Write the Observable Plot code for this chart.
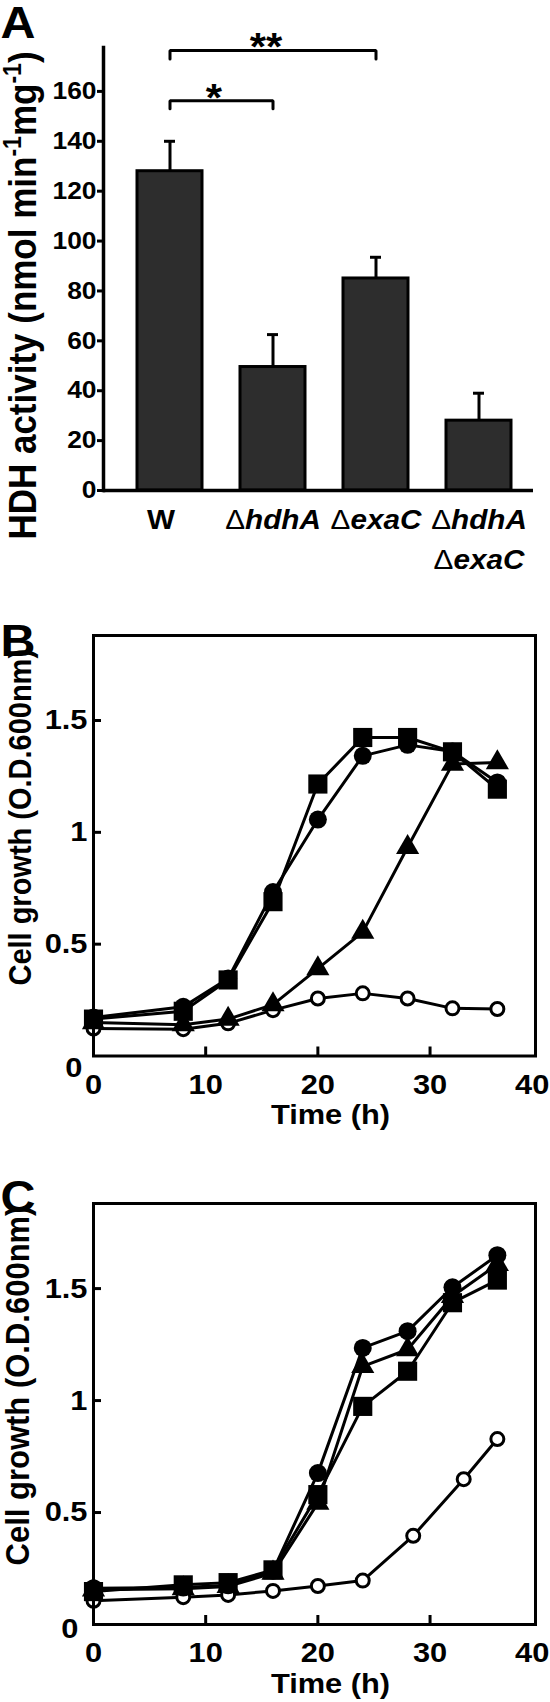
<!DOCTYPE html>
<html>
<head>
<meta charset="utf-8">
<script src="https://cdn.jsdelivr.net/npm/d3@7"></script>
<script src="https://cdn.jsdelivr.net/npm/@observablehq/plot@0.6"></script>
<style>
  body { margin: 0; background: #fff; }
  #chart { width: 550px; }
  #chart svg { display: block; }
</style>
</head>
<body>
<div id="chart"></div>
<script>
// ---------- Panel A: HDH activity ----------
const strains = ["W", "ΔhdhA", "ΔexaC", "ΔhdhA\nΔexaC"];
const activity = [128, 49.5, 85, 28];
const activityErr = [12, 13, 8.5, 11];
const activityTicks = [0, 20, 40, 60, 80, 100, 120, 140, 160];
const activityLabel = "HDH activity (nmol min^-1mg^-1)";
const sigFrom = ["W", "W"];
const sigTo = ["ΔexaC", "ΔhdhA"];
const sigLevel = [176.4, 156.3];
const sigLeg = [173, 153];
const sigLabel = ["**", "*"];

// ---------- Panel B: growth ----------
const timeB = [0, 8, 12, 16, 20, 24, 28, 32, 36];
const bCircle   = [0.172, 0.22, 0.346, 0.733, 1.057, 1.342, 1.391, 1.361, 1.223];
const bSquare   = [0.165, 0.20, 0.34, 0.69, 1.216, 1.424, 1.424, 1.36, 1.193];
const bTriangle = [0.15, 0.14, 0.165, 0.23, 0.391, 0.554, 0.933, 1.305, 1.312];
const bOpen     = [0.123, 0.12, 0.146, 0.205, 0.257, 0.28, 0.257, 0.213, 0.21];

// ---------- Panel C: growth ----------
const timeC = [0, 8, 12, 16, 20, 24, 28, 32, 36];
const timeCOpen = [0, 8, 12, 16, 20, 24, 28.5, 33, 36];
const cCircle   = [0.162, 0.165, 0.175, 0.24, 0.676, 1.235, 1.31, 1.506, 1.649];
const cSquare   = [0.147, 0.177, 0.187, 0.244, 0.58, 0.974, 1.131, 1.437, 1.538];
const cTriangle = [0.155, 0.16, 0.17, 0.23, 0.542, 1.153, 1.228, 1.466, 1.608];
const cOpen     = [0.106, 0.122, 0.132, 0.15, 0.172, 0.196, 0.396, 0.649, 0.828];

const growthTickMarksX = [10, 20, 30];
const growthTickLabelsX = [0, 10, 20, 30];
const growthLastTickX = [40];
const growthTicksY = [0.5, 1, 1.5];
const growthZeroY = [0];
const growthLabel = "Cell growth (O.D.600nm)";
const timeLabel = "Time (h)";

// ---------- helpers ----------
const FONT = "'Liberation Sans', Arial, Helvetica, sans-serif";
const SVGNS = "http://www.w3.org/2000/svg";
const STRETCH = 1.1;
const plain = d => `${d}`;

function style() {
  return {fontFamily: FONT, fontWeight: "bold", fontSize: "24px", background: "white", color: "black", overflow: "visible"};
}

// superscripts (^-1) and an upright, regular-weight Δ
function richText(svg) {
  svg.querySelectorAll("text, tspan").forEach(el => {
    [...el.childNodes].forEach(node => {
      if (node.nodeType !== 3) return;
      const s = node.nodeValue;
      if (!/[Δ^]/.test(s)) return;
      const parts = s.split(/(\^-?\d+|Δ)/).filter(p => p);
      const fs = parseFloat(getComputedStyle(el).fontSize) || 24;
      const shift = fs * 0.38;
      let raised = false;
      const frag = document.createDocumentFragment();
      parts.forEach(p => {
        const t = document.createElementNS(SVGNS, "tspan");
        if (p === "Δ") {
          t.setAttribute("font-style", "normal");
          t.setAttribute("font-weight", "normal");
          t.textContent = "Δ";
        } else if (p.startsWith("^")) {
          t.setAttribute("font-size", (fs * 0.66).toFixed(1));
          t.setAttribute("dy", (-shift).toFixed(1));
          t.textContent = p.slice(1);
          raised = true;
          frag.appendChild(t);
          return;
        } else {
          t.textContent = p;
        }
        if (raised) { t.setAttribute("dy", shift.toFixed(1)); raised = false; }
        frag.appendChild(t);
      });
      el.replaceChild(frag, node);
    });
  });
}

// the reference lettering is slightly wide: stretch every text horizontally
function stretchText(svg) {
  svg.querySelectorAll("text").forEach(t => {
    const tr = t.getAttribute("transform") || "";
    const m = tr.match(/^\s*translate\([^)]*\)/);
    if (m) t.setAttribute("transform", m[0] + ` scale(${STRETCH},1)` + tr.slice(m[0].length));
  });
}

function finish(svg) {
  document.getElementById("chart").appendChild(svg);
  richText(svg);
  stretchText(svg);
}

// ---------- Panel A ----------
const dataA = strains.map((s, i) => ({strain: s, value: activity[i], top: activity[i] + activityErr[i]}));
const sigs = sigLabel.map((l, i) => ({from: sigFrom[i], to: sigTo[i], level: sigLevel[i], leg: sigLeg[i], label: l}));
const bracketPts = sigs.flatMap((d, i) => [
  {id: i, x: d.from, y: d.leg}, {id: i, x: d.from, y: d.level},
  {id: i, x: d.to, y: d.level}, {id: i, x: d.to, y: d.leg}
]);

finish(Plot.plot({
  width: 550, height: 600,
  marginTop: 47, marginBottom: 110, marginLeft: 103, marginRight: 17,
  style: style(),
  x: {type: "band", domain: strains, paddingInner: 0.37, paddingOuter: 0.253, align: 0.6, axis: null},
  y: {domain: [0, 177.6]},
  marks: [
    Plot.barY(dataA, {x: "strain", y: "value", fill: "#2d2d2d", stroke: "black", strokeWidth: 3}),
    Plot.ruleX(dataA, {x: "strain", y1: "value", y2: "top", strokeWidth: 3}),
    Plot.tickY(dataA, {x: "strain", y: "top", strokeWidth: 3, insetLeft: 27, insetRight: 27}),
    Plot.line(bracketPts, {x: "x", y: "y", z: "id", strokeWidth: 3, strokeLinejoin: "miter"}),
    Plot.text(sigs, {filter: d => d.label === "**", x: "from", y: "level", text: "label", dx: 96, dy: 10, lineAnchor: "bottom", fontSize: 38}),
    Plot.text(sigs, {filter: d => d.label === "*", x: "from", y: "level", text: "label", dx: 44, dy: 10, lineAnchor: "bottom", fontSize: 38}),
    Plot.ruleY([0], {strokeWidth: 3.5}),
    Plot.frame({anchor: "left", strokeWidth: 3.5}),
    Plot.axisY({ticks: activityTicks, tickSize: 6, tickPadding: 1, strokeWidth: 3, label: null, fontSize: 24, tickFormat: plain}),
    Plot.text(strains, {filter: d => !d.startsWith("Δ"), x: d => d, text: d => d, frameAnchor: "bottom", dx: -9, dy: 19, lineAnchor: "top", fontSize: 27}),
    Plot.text(strains, {filter: d => d.startsWith("Δ"), x: d => d, text: d => d, frameAnchor: "bottom", dy: 9.8, lineAnchor: "top", fontSize: 27, fontStyle: "italic", lineHeight: 1.48}),
    Plot.text([activityLabel], {frameAnchor: "left", rotate: -90, textAnchor: "middle", dx: -68, dy: 26.5, lineAnchor: "bottom", fontSize: 35}),
    Plot.text(["A"], {frameAnchor: "top-left", textAnchor: "start", dx: -103, dy: -10, lineAnchor: "bottom", fontSize: 44})
  ]
}));

// ---------- growth panels ----------
function growthPlot({letter, series, height, marginTop, marginBottom, letterDy, labelDx, labelDy, labelSize, zeroDy, zeroPad}) {
  const rows = series.flatMap(s => s.t.map((t, i) => ({series: s.key, t, v: s.v[i]})));
  const sym = {
    open: {symbol: "circle", r: 6.5, fill: "white", stroke: "black", strokeWidth: 3},
    triangle: {symbol: "triangle", r: 8.6, fill: "black"},
    circle: {symbol: "circle", r: 9, fill: "black"},
    square: {symbol: "square", r: 10.8, fill: "black"}
  };
  return Plot.plot({
    width: 550, height,
    marginTop, marginBottom, marginLeft: 93, marginRight: 15,
    style: style(),
    x: {domain: [0, 39.4]},
    y: {domain: [0, 1.88]},
    marks: [
      Plot.line(rows, {x: "t", y: "v", z: "series", stroke: "black", strokeWidth: 3, strokeLinejoin: "round"}),
      ...series.map(s => Plot.dot(rows, {filter: d => d.series === s.key, x: "t", y: "v", ...sym[s.key]})),
      Plot.frame({strokeWidth: 3}),
      // inward tick marks
      Plot.ruleX(growthTickMarksX, {x: d => d, y1: 0, y2: 0, insetTop: -9, strokeWidth: 3}),
      Plot.ruleY(growthTicksY, {y: d => d, x1: 0, x2: 0, insetRight: -8, strokeWidth: 3}),
      Plot.axisX({ticks: growthTickLabelsX, tickSize: 0, tickPadding: 18, label: null, fontSize: 28, tickFormat: plain}),
      Plot.axisX({ticks: growthLastTickX, tickSize: 0, tickPadding: 18, dx: -10, label: null, fontSize: 28, tickFormat: plain}),
      Plot.axisY({ticks: growthTicksY, tickSize: 0, tickPadding: 6, label: null, fontSize: 28, tickFormat: plain}),
      Plot.axisY({ticks: growthZeroY, tickSize: 0, tickPadding: zeroPad, dy: zeroDy, label: null, fontSize: 28, tickFormat: plain}),
      Plot.text([timeLabel], {frameAnchor: "bottom", dx: 16, dy: 68, lineAnchor: "bottom", fontSize: 28}),
      Plot.text([growthLabel], {frameAnchor: "left", rotate: -90, textAnchor: "middle", dx: labelDx, dy: labelDy, lineAnchor: "bottom", fontSize: labelSize}),
      Plot.text([letter], {frameAnchor: "top-left", textAnchor: "start", dx: -93, dy: letterDy, lineAnchor: "bottom", fontSize: 44})
    ]
  });
}

finish(growthPlot({
  letter: "B",
  series: [
    {key: "open", t: timeB, v: bOpen},
    {key: "triangle", t: timeB, v: bTriangle},
    {key: "circle", t: timeB, v: bCircle},
    {key: "square", t: timeB, v: bSquare}
  ],
  height: 570, marginTop: 35, marginBottom: 114.5,
  letterDy: 20, labelDx: -63, labelDy: -28.5, labelSize: 29, zeroDy: 12, zeroPad: 11
}));

finish(growthPlot({
  letter: "C",
  series: [
    {key: "open", t: timeCOpen, v: cOpen},
    {key: "triangle", t: timeC, v: cTriangle},
    {key: "circle", t: timeC, v: cCircle},
    {key: "square", t: timeC, v: cSquare}
  ],
  height: 532, marginTop: 33, marginBottom: 78,
  letterDy: 8, labelDx: -65, labelDy: -28.5, labelSize: 31, zeroDy: 5, zeroPad: 15
}));
</script>
</body>
</html>
